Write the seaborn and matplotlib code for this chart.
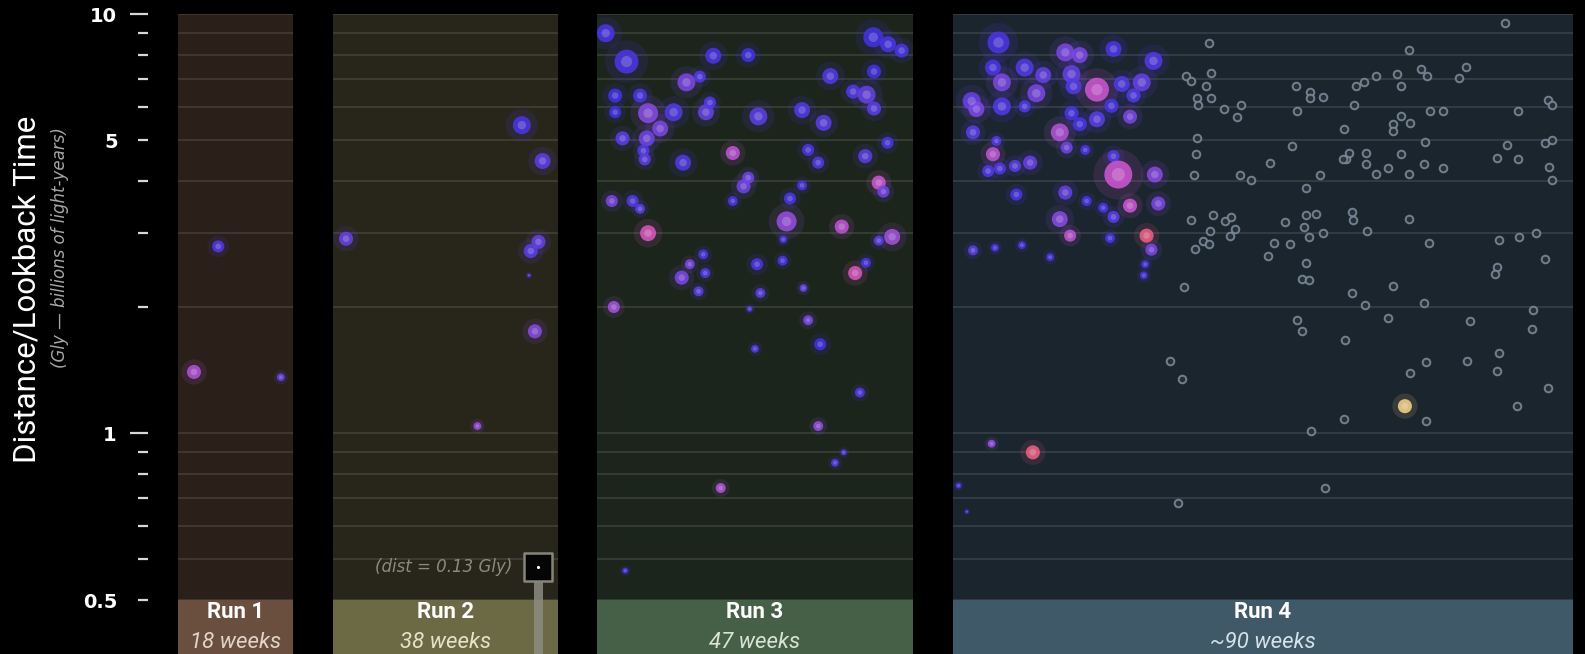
import numpy as np
import pandas as pd
import matplotlib
matplotlib.use("Agg")
import matplotlib.pyplot as plt
import seaborn as sns
from matplotlib.colors import LinearSegmentedColormap
from matplotlib.ticker import FixedLocator, FixedFormatter
import matplotlib.transforms as mtransforms

# ---------------------------------------------------------------- data
run_names = ["Run 1", "Run 2", "Run 3", "Run 4"]
run_weeks = [18, 38, 47, 90]
run_week_labels = ["18 weeks", "38 weeks", "47 weeks", "~90 weeks"]

# confirmed detections: week into the run, distance (Gly), total mass (Msun), colour index
run1_week = [6.3, 2.5, 16.1]
run1_dist = [2.79, 1.40, 1.36]
run1_mass = [28, 38, 12]
run1_tone = [0.10, 0.50, 0.20]

run2_week = [31.9, 35.4, 2.2, 34.7, 33.4, 33.1, 34.1, 24.4]
run2_dist = [5.43, 4.46, 2.91, 2.86, 2.72, 2.38, 1.75, 1.04]
run2_mass = [62, 49, 38, 38, 38, 3, 38, 12]
run2_tone = [0.05, 0.15, 0.20, 0.20, 0.15, 0.05, 0.35, 0.40]

run3_week = [1.3, 4.4, 17.3, 22.5, 41.1, 43.3, 45.3, 34.7, 41.2, 13.3,
             15.3, 2.7, 6.4, 2.7, 7.6, 11.4, 16.2, 16.8, 24.0, 30.5,
             33.7, 38.1, 40.1, 41.2, 9.4, 3.8, 7.4, 6.9, 7.1, 12.8,
             20.2, 31.4, 32.9, 39.9, 43.2, 22.5, 21.8, 30.5, 41.9, 42.6,
             2.2, 5.3, 6.4, 20.2, 28.7, 7.6, 28.2, 36.4, 43.9, 41.9,
             27.7, 15.8, 13.8, 16.1, 12.6, 15.1, 23.8, 27.6, 38.4, 40.0,
             24.3, 30.7, 2.5, 22.7, 31.4, 23.5, 33.2, 39.1, 32.9, 36.7,
             35.4, 18.4, 4.2]
run3_dist = [9.0, 7.7, 7.95, 7.98, 8.8, 8.47, 8.18, 7.11, 7.29, 6.87,
             7.09, 6.39, 6.39, 5.83, 5.80, 5.83, 5.83, 6.15, 5.70, 5.90,
             5.50, 6.53, 6.42, 5.95, 5.33, 5.05, 5.05, 4.72, 4.50, 4.42,
             4.66, 4.74, 4.42, 4.58, 4.93, 4.07, 3.88, 3.90, 3.96, 3.77,
             3.58, 3.58, 3.43, 3.58, 3.63, 3.00, 3.20, 3.11, 2.94, 2.88,
             2.90, 2.67, 2.53, 2.41, 2.35, 2.18, 2.53, 2.58, 2.41, 2.55,
             2.16, 2.22, 2.00, 1.98, 1.86, 1.59, 1.63, 1.25, 1.04, 0.90,
             0.85, 0.74, 0.47]
run3_mass = [62, 110, 49, 38, 77, 49, 38, 49, 38, 62,
             28, 38, 38, 28, 77, 62, 49, 28, 62, 49,
             49, 38, 62, 38, 49, 38, 49, 28, 28, 49,
             38, 28, 28, 38, 28, 28, 38, 19, 38, 28,
             28, 28, 19, 19, 28, 49, 77, 38, 49, 19,
             12, 19, 19, 19, 38, 19, 28, 19, 38, 19,
             19, 12, 28, 7, 19, 12, 28, 19, 19, 7,
             12, 19, 7]
run3_tone = [0.05, 0.05, 0.05, 0.00, 0.00, 0.05, 0.05, 0.10, 0.00, 0.30,
             0.10, 0.00, 0.05, 0.00, 0.35, 0.10, 0.20, 0.10, 0.15, 0.10,
             0.15, 0.10, 0.20, 0.15, 0.30, 0.15, 0.25, 0.10, 0.15, 0.10,
             0.55, 0.05, 0.10, 0.15, 0.05, 0.25, 0.25, 0.05, 0.60, 0.25,
             0.30, 0.10, 0.15, 0.05, 0.05, 0.65, 0.40, 0.55, 0.45, 0.15,
             0.05, 0.05, 0.30, 0.10, 0.30, 0.15, 0.05, 0.05, 0.65, 0.05,
             0.15, 0.20, 0.45, 0.10, 0.30, 0.10, 0.00, 0.10, 0.40, 0.10,
             0.10, 0.50, 0.05]

run4_week = [6.6, 5.8, 10.4, 7.1, 13.1, 12.1, 10.4, 7.1, 2.7, 3.4,
             2.9, 16.3, 18.4, 23.3, 29.1, 17.2, 17.5, 20.9, 24.5, 27.4,
             26.2, 23.0, 17.2, 18.4, 20.9, 25.7, 15.5, 16.5, 19.2, 5.8,
             6.3, 5.1, 6.8, 9.0, 11.2, 23.3, 24.0, 29.3, 9.2, 16.3,
             25.7, 29.8, 19.4, 21.8, 23.3, 15.5, 17.0, 28.1, 22.8, 28.8,
             2.9, 6.1, 10.0, 14.1, 27.9, 27.7, 5.6, 11.6, 0.8, 2.0,
             65.6]
run4_dist = [8.55, 7.45, 7.45, 6.87, 7.15, 6.47, 6.02, 6.02, 6.20, 5.93,
             5.22, 8.10, 7.98, 8.25, 7.73, 7.19, 6.72, 6.60, 6.81, 6.87,
             6.39, 6.04, 5.80, 5.46, 5.61, 5.69, 5.22, 4.80, 4.74, 4.63,
             4.98, 4.22, 4.28, 4.34, 4.42, 4.58, 4.14, 4.14, 3.71, 3.75,
             3.49, 3.53, 3.58, 3.45, 3.28, 3.24, 2.96, 2.96, 2.92, 2.74,
             2.73, 2.77, 2.81, 2.63, 2.53, 2.38, 0.944, 0.90, 0.75, 0.65,
             1.16]
run4_mass = [93, 49, 62, 62, 49, 62, 28, 62, 62, 49,
             38, 62, 49, 49, 62, 62, 49, 110, 49, 62,
             38, 38, 38, 38, 49, 38, 62, 28, 19, 38,
             19, 28, 28, 28, 38, 28, 150, 49, 28, 38,
             38, 38, 19, 19, 28, 49, 28, 38, 19, 28,
             19, 12, 12, 12, 12, 12, 12, 38, 7, 3,
             38]
run4_tone = [0.05, 0.05, 0.10, 0.30, 0.20, 0.30, 0.10, 0.10, 0.20, 0.30,
             0.15, 0.30, 0.30, 0.05, 0.10, 0.20, 0.10, 0.60, 0.10, 0.20,
             0.10, 0.05, 0.05, 0.05, 0.15, 0.30, 0.50, 0.25, 0.05, 0.55,
             0.10, 0.10, 0.10, 0.15, 0.20, 0.10, 0.60, 0.35, 0.05, 0.20,
             0.60, 0.30, 0.05, 0.05, 0.15, 0.35, 0.55, 0.80, 0.05, 0.30,
             0.15, 0.05, 0.05, 0.05, 0.05, 0.05, 0.40, 0.80, 0.05, 0.05,
             1.00]

# run 4 public alerts still awaiting confirmation
cand_week = [37.1, 33.8, 34.6, 37.5, 36.7, 35.4, 37.5, 35.5, 39.3, 41.8,
             41.2, 35.4, 35.3, 35.0, 41.7, 43.2, 34.6, 37.7, 39.5, 40.3,
             37.3, 40.9, 40.2, 36.3, 37.1, 35.1, 33.5, 45.7, 46.0, 31.5,
             33.2, 32.7, 53.3, 51.3, 48.2, 51.3, 52.7, 50.9, 51.7, 53.7,
             46.6, 48.9, 51.3, 50.6, 51.7, 50.0, 50.6, 56.9, 57.1, 80.1,
             66.2, 74.5, 73.5, 68.0, 68.8, 64.4, 61.4, 59.6, 58.5, 65.0,
             49.8, 51.8, 51.8, 53.7, 49.9, 58.2, 69.2, 71.1, 65.0, 66.3,
             63.9, 63.9, 56.7, 68.5, 49.2, 57.5, 60.0, 65.1, 56.6, 60.0,
             61.4, 63.2, 66.2, 68.4, 71.1, 82.0, 86.4, 86.9, 80.4, 79.0,
             82.0, 85.9, 87.0, 86.5, 86.9, 57.9, 58.1, 60.1, 66.2, 69.1,
             79.3, 82.2, 84.7, 85.9, 78.9, 78.7, 57.9, 59.8, 63.9, 68.4,
             63.2, 75.1, 84.2, 68.7, 66.3, 74.6, 79.3, 78.9, 84.0, 86.4,
             81.8, 56.7, 51.9, 54.0, 68.7]
cand_dist = [8.52, 7.10, 6.93, 7.25, 6.72, 6.29, 6.29, 6.06, 5.95, 6.06,
             5.69, 5.05, 4.63, 4.14, 4.14, 4.02, 3.23, 3.31, 3.21, 3.27,
             3.04, 3.07, 2.96, 2.87, 2.82, 2.75, 2.23, 2.64, 4.42, 1.49,
             1.35, 0.68, 4.14, 3.85, 3.19, 3.31, 3.33, 3.11, 2.94, 3.01,
             2.85, 2.82, 2.54, 2.33, 2.32, 1.86, 1.75, 1.67, 4.50, 9.52,
             8.22, 7.49, 7.02, 7.39, 7.11, 7.19, 7.11, 6.87, 6.74, 6.72,
             6.72, 6.50, 6.29, 6.35, 5.87, 6.06, 5.87, 5.87, 5.70, 5.51,
             5.46, 5.26, 5.31, 4.94, 4.84, 4.67, 4.67, 4.63, 4.50, 4.38,
             4.16, 4.30, 4.16, 4.38, 4.30, 5.87, 6.24, 6.06, 4.86, 4.54,
             4.52, 4.91, 5.00, 4.32, 4.02, 3.37, 3.23, 3.04, 3.25, 2.84,
             2.89, 2.94, 3.01, 2.61, 2.49, 2.40, 2.16, 2.02, 2.24, 2.05,
             1.88, 1.85, 1.97, 1.48, 1.39, 1.49, 1.55, 1.41, 1.77, 1.28,
             1.16, 1.08, 1.01, 0.74, 1.07]

# binary neutron star in run 2, far below the plotted range
bns_week = 34.7
bns_dist = 0.13
bns_label = "(dist = 0.13 Gly)"

# distance axis
y_lo, y_hi = 0.4, 10
major_ticks = [1, 10]
major_labels = ["1", "10"]
minor_ticks = [0.4, 0.5, 0.6, 0.7, 0.8, 0.9, 2, 3, 4, 5, 6, 7, 8, 9]
minor_labels = ["0.5", "", "", "", "", "", "", "", "", "5", "", "", "", ""]

# ---------------------------------------------------------------- style
panel_bg = ["#2a2019", "#28261b", "#1c251c", "#1b252e"]
label_bg = ["#6a4f3e", "#6c6a45", "#465f47", "#3f5968"]
week_fg = ["#e2d5c8", "#e6e3c9", "#d9e4d6", "#d6e2ea"]

event_cmap = LinearSegmentedColormap.from_list(
    "events",
    [(0.00, "#4232e6"), (0.15, "#5b3fe8"), (0.30, "#7c48e6"),
     (0.45, "#a452de"), (0.60, "#cf58d4"), (0.72, "#e75ba8"),
     (0.82, "#f2627c"), (1.00, "#f8d68a")])

MASS_MAX = 150
AREA_PER_MSUN = 2.7

W, H = 1585, 654
fig = plt.figure(figsize=(W / 100, H / 100), dpi=100, facecolor="black")

panel_px = [(178, 293), (333, 558), (597, 913), (953, 1573)]
top_px, split_px = 14, 600


def fig_rect(x0, x1, y0, y1):
    return [x0 / W, 1 - y1 / H, (x1 - x0) / W, (y1 - y0) / H]


def plot_events(ax, week, dist, mass, tone):
    df = pd.DataFrame({"week": week, "dist": dist, "mass": mass, "tone": tone})
    # soft glow, body, bright core
    for scale, alpha in [(3.2, 0.13), (1.0, 0.86)]:
        sns.scatterplot(data=df, x="week", y="dist", hue="tone", palette=event_cmap,
                        hue_norm=(0, 1), size="mass",
                        sizes=(0, MASS_MAX * AREA_PER_MSUN * scale),
                        size_norm=(0, MASS_MAX), alpha=alpha, linewidth=0,
                        legend=False, ax=ax, zorder=3)
    sns.scatterplot(data=df, x="week", y="dist", color="white", size="mass",
                    sizes=(0, MASS_MAX * AREA_PER_MSUN * 0.22),
                    size_norm=(0, MASS_MAX), alpha=0.2, linewidth=0,
                    legend=False, ax=ax, zorder=4)


events = [
    (run1_week, run1_dist, run1_mass, run1_tone),
    (run2_week, run2_dist, run2_mass, run2_tone),
    (run3_week, run3_dist, run3_mass, run3_tone),
    (run4_week, run4_dist, run4_mass, run4_tone),
]

axes = []
for i, (x0, x1) in enumerate(panel_px):
    ax = fig.add_axes(fig_rect(x0, x1, top_px, split_px), zorder=2)
    ax.set_facecolor(panel_bg[i])
    ax.set_yscale("log")
    ax.yaxis.set_major_locator(FixedLocator(major_ticks))
    ax.yaxis.set_major_formatter(FixedFormatter(major_labels))
    ax.yaxis.set_minor_locator(FixedLocator(minor_ticks))
    ax.yaxis.set_minor_formatter(FixedFormatter(minor_labels))
    ax.grid(True, axis="y", which="both", color="white", alpha=0.10, lw=1.5)
    ax.set_axisbelow(True)

    if i == 3:
        cand = pd.DataFrame({"week": cand_week, "dist": cand_dist})
        sns.scatterplot(data=cand, x="week", y="dist", s=30, color="#26313b",
                        edgecolor="#7a8a96", linewidth=1.4, alpha=0.9,
                        legend=False, ax=ax, zorder=2)

    plot_events(ax, *events[i])

    ax.set_xlim(0, run_weeks[i])
    ax.set_ylim(y_lo, y_hi)
    ax.set_xlabel("")
    ax.set_ylabel("")
    ax.set_xticks([])
    for s in ax.spines.values():
        s.set_visible(False)
    if i == 0:
        ax.spines["left"].set_position(("outward", 21.6))
        ax.tick_params(axis="y", which="major", direction="out", length=13,
                       width=1.6, color="#d8d8d8", pad=9.4, labelsize=14,
                       labelcolor="white")
        ax.tick_params(axis="y", which="minor", direction="out", length=7.2,
                       width=1.6, color="#d8d8d8", pad=14.4, labelsize=14,
                       labelcolor="white")
        for lbl in ax.get_yticklabels(which="both"):
            lbl.set_fontweight("bold")
            lbl.set_family("DejaVu Sans")
    else:
        ax.tick_params(axis="y", which="both", left=False, labelleft=False)
    axes.append(ax)

    # run caption box
    lab = fig.add_axes(fig_rect(x0, x1, split_px, H), zorder=1)
    lab.set_facecolor(label_bg[i])
    lab.set_xticks([])
    lab.set_yticks([])
    for s in lab.spines.values():
        s.set_visible(False)
    lab.text(0.5, 0.77, run_names[i], ha="center", va="center", color="white",
             fontsize=16, fontweight="bold", family="Roboto")
    lab.text(0.5, 0.22, run_week_labels[i], ha="center", va="center",
             color=week_fg[i], fontsize=16, style="italic", family="Roboto")

# binary neutron star marker pinned near the bottom of run 2
ax2 = axes[1]
pin_frac = 0.057
pin_y = y_lo * (y_hi / y_lo) ** pin_frac
bar_tr = mtransforms.blended_transform_factory(ax2.transData, ax2.transAxes)
ax2.plot([bns_week, bns_week], [pin_frac - 0.02, -0.12], transform=bar_tr,
         color="#8c8c82", lw=6.5, alpha=0.85, solid_capstyle="butt",
         clip_on=False, zorder=4)
sns.scatterplot(x=[bns_week], y=[pin_y], marker="s", s=430, color="#050505",
                edgecolor="#85857c", linewidth=1.8, legend=False, ax=ax2,
                zorder=5, clip_on=False)
sns.scatterplot(x=[bns_week], y=[pin_y], marker="o", s=5, color="white",
                linewidth=0, legend=False, ax=ax2, zorder=6, clip_on=False)
ax2.annotate(bns_label, xy=(bns_week, pin_y), xytext=(-19, 0),
             textcoords="offset points", ha="right", va="center",
             fontsize=12, style="italic", color="#8a8a80", family="DejaVu Sans")
ax2.set_xlim(0, run_weeks[1])
ax2.set_ylim(y_lo, y_hi)
ax2.set_xlabel("")
ax2.set_ylabel("")

# axis titles
fig.text(27 / W, 1 - 289 / H, "Distance/Lookback Time", rotation=90,
         ha="center", va="center", color="white", fontsize=22.5, family="Roboto")
fig.text(60 / W, 1 - 248 / H, "(Gly \u2014 billions of light-years)", rotation=90,
         ha="center", va="center", color="#a8a8a8", fontsize=12,
         style="italic", family="DejaVu Sans")

fig.savefig("out.png", dpi=100, facecolor="black")
